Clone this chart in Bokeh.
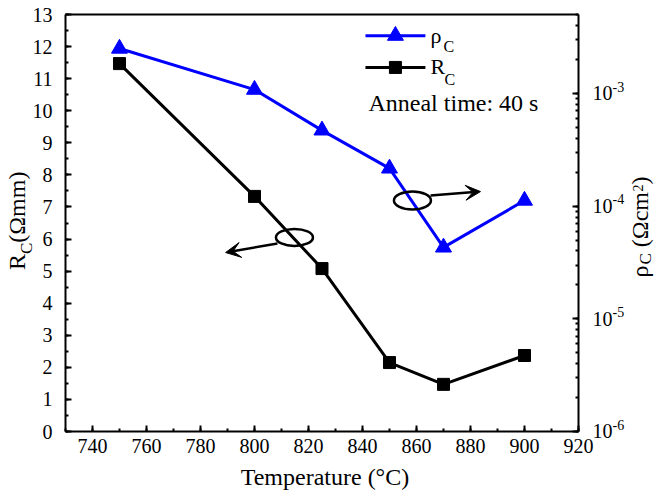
import math
from bokeh.plotting import figure
from bokeh.models import (Range1d, LogScale, LogAxis, LinearAxis, SingleIntervalTicker, LogTicker,
                          FixedTicker, Label, Arrow, VeeHead, CustomJSTickFormatter)
from bokeh.embed import file_html
from bokeh.resources import INLINE

# ---- data ----
temperature = [750, 800, 825, 850, 870, 900]          # °C
rc_ohm_mm = [11.47, 7.33, 5.08, 2.15, 1.47, 2.37]      # R_C (Ω mm)
rho_c = [2.5e-3, 1.08e-3, 4.7e-4, 2.16e-4, 4.3e-5, 1.12e-4]  # ρ_C (Ω cm²)

x_axis_bounds = (730, 920)
left_axis_bounds = (0, 13)
right_axis_bounds = (1e-6, 5.012e-3)
right_decades = [1e-6, 1e-5, 1e-4, 1e-3]
right_exponents = ["-6", "-5", "-4", "-3"]

FONT = "Liberation Serif"
BLUE = "#0000FF"

# frame covers the whole canvas; axes are drawn at fixed locations inside it
p = figure(width=656, height=490,
           x_range=Range1d(705.93, 948.89), y_range=Range1d(-1.839, 13.437),
           x_axis_location=None, y_axis_location=None,
           output_backend="svg", toolbar_location=None,
           min_border_left=0, min_border_right=0, min_border_top=0, min_border_bottom=0)
p.extra_y_ranges = {"rho": Range1d(2.9955e-7, 6.6726e-3)}
p.extra_y_scales = {"rho": LogScale()}
p.outline_line_color = None
p.background_fill_color = "white"
p.border_fill_color = "white"
p.grid.visible = False

AXIS_STYLE = dict(axis_line_width=2, axis_line_color="black",
                  major_tick_in=6, major_tick_out=0, minor_tick_in=3, minor_tick_out=0,
                  major_tick_line_width=2, minor_tick_line_width=2,
                  major_label_text_font=FONT, major_label_text_font_size="20px",
                  major_label_text_color="black", axis_label=None)

xa = LinearAxis(fixed_location=left_axis_bounds[0], bounds=x_axis_bounds,
                ticker=SingleIntervalTicker(interval=20, num_minor_ticks=2),
                major_label_standoff=7, **AXIS_STYLE)
p.add_layout(xa, "below")

ya = LinearAxis(fixed_location=x_axis_bounds[0], bounds=left_axis_bounds,
                ticker=SingleIntervalTicker(interval=1, num_minor_ticks=2),
                major_label_standoff=13, **AXIS_STYLE)
p.add_layout(ya, "left")

ra = LogAxis(y_range_name="rho", fixed_location=x_axis_bounds[1], bounds=right_axis_bounds,
             ticker=LogTicker(num_minor_ticks=10),
             formatter=CustomJSTickFormatter(code="return '10'"),
             major_label_standoff=14, **AXIS_STYLE)
p.add_layout(ra, "right")

ta = LinearAxis(fixed_location=left_axis_bounds[1], bounds=x_axis_bounds,
                ticker=FixedTicker(ticks=[]), major_label_standoff=0, **AXIS_STYLE)
ta.major_label_text_font_size = "0px"
p.add_layout(ta, "above")

# ---- series ----
p.line(temperature, rho_c, y_range_name="rho", line_color=BLUE, line_width=3)
p.scatter(temperature, rho_c, y_range_name="rho", marker="triangle", size=16,
          fill_color=BLUE, line_color=BLUE)
p.line(temperature, rc_ohm_mm, line_color="black", line_width=3)
p.scatter(temperature, rc_ohm_mm, marker="square", size=12,
          fill_color="black", line_color="black")

# ---- legend (drawn by hand for subscripts) ----
leg_x = [841.1, 863.3]
leg_mid = 852.2
leg_y_rho = 12.34
leg_y_rc = 11.35
p.line(leg_x, [leg_y_rho, leg_y_rho], line_color=BLUE, line_width=3)
p.scatter([leg_mid], [leg_y_rho], marker="triangle", size=16, fill_color=BLUE, line_color=BLUE)
p.line(leg_x, [leg_y_rc, leg_y_rc], line_color="black", line_width=3)
p.scatter([leg_mid], [leg_y_rc], marker="square", size=12, fill_color="black", line_color="black")


def lab(x, y, text, size=22, angle=0.0, align="left", baseline="alphabetic", **kw):
    p.add_layout(Label(x=x, y=y, text=text, text_font=FONT, text_font_size=f"{size}px",
                       text_color="black", angle=angle, text_align=align,
                       text_baseline=baseline, **kw))


lab(865.19, 12.336, "ρ")
lab(870.0, 11.990, "C", size=16)
lab(865.19, 11.370, "R")
lab(870.37, 10.961, "C", size=16)
lab(842.22, 10.238, "Anneal time: 40 s", size=24)

# ---- axis titles ----
lab(826.1, -1.422, "Temperature (°C)", size=24, align="center")

A = math.pi / 2
lab(712.07, 5.035, "R", size=24, angle=A)
lab(715.56, 5.534, "C", size=17, angle=A)
lab(712.07, 5.886, "(Ωmm)", size=24, angle=A)

lab(942.81, 4.801, "ρ", size=24, angle=A)
lab(944.8, 5.206, "C", size=17, angle=A)
lab(942.81, 5.746, "(Ωcm", size=24, angle=A)
lab(941.89, 7.485, "2", size=14, angle=A)
lab(942.81, 7.703, ")", size=24, angle=A)

# ---- right tick exponents ----
EXP_SHIFT = 1.15
for dec, ex in zip(right_decades, right_exponents):
    p.add_layout(Label(x=932.59, y=dec * EXP_SHIFT, y_range_name="rho", text=ex, text_font=FONT,
                       text_font_size="14px", text_color="black", text_baseline="middle"))

# ---- ellipse markers with arrows ----
ell_rc = dict(x=814.8, y=6.05, w=13.7, h=0.53)
ell_rho = dict(x=858.5, y=7.20, w=13.7, h=0.56)
arrow_rc = dict(x0=808.5, y0=5.86, x1=789.3, y1=5.58)
arrow_rho = dict(x0=865.2, y0=7.36, x1=883.7, y1=7.48)

for e in (ell_rc, ell_rho):
    p.ellipse(x=[e["x"]], y=[e["y"]], width=e["w"], height=e["h"],
              fill_color=None, line_color="black", line_width=2.5)
for a in (arrow_rc, arrow_rho):
    p.add_layout(Arrow(end=VeeHead(size=15, fill_color="black", line_color="black"),
                       x_start=a["x0"], y_start=a["y0"], x_end=a["x1"], y_end=a["y1"],
                       line_color="black", line_width=2.5))

open("out.html", "w").write(file_html(p, INLINE))
